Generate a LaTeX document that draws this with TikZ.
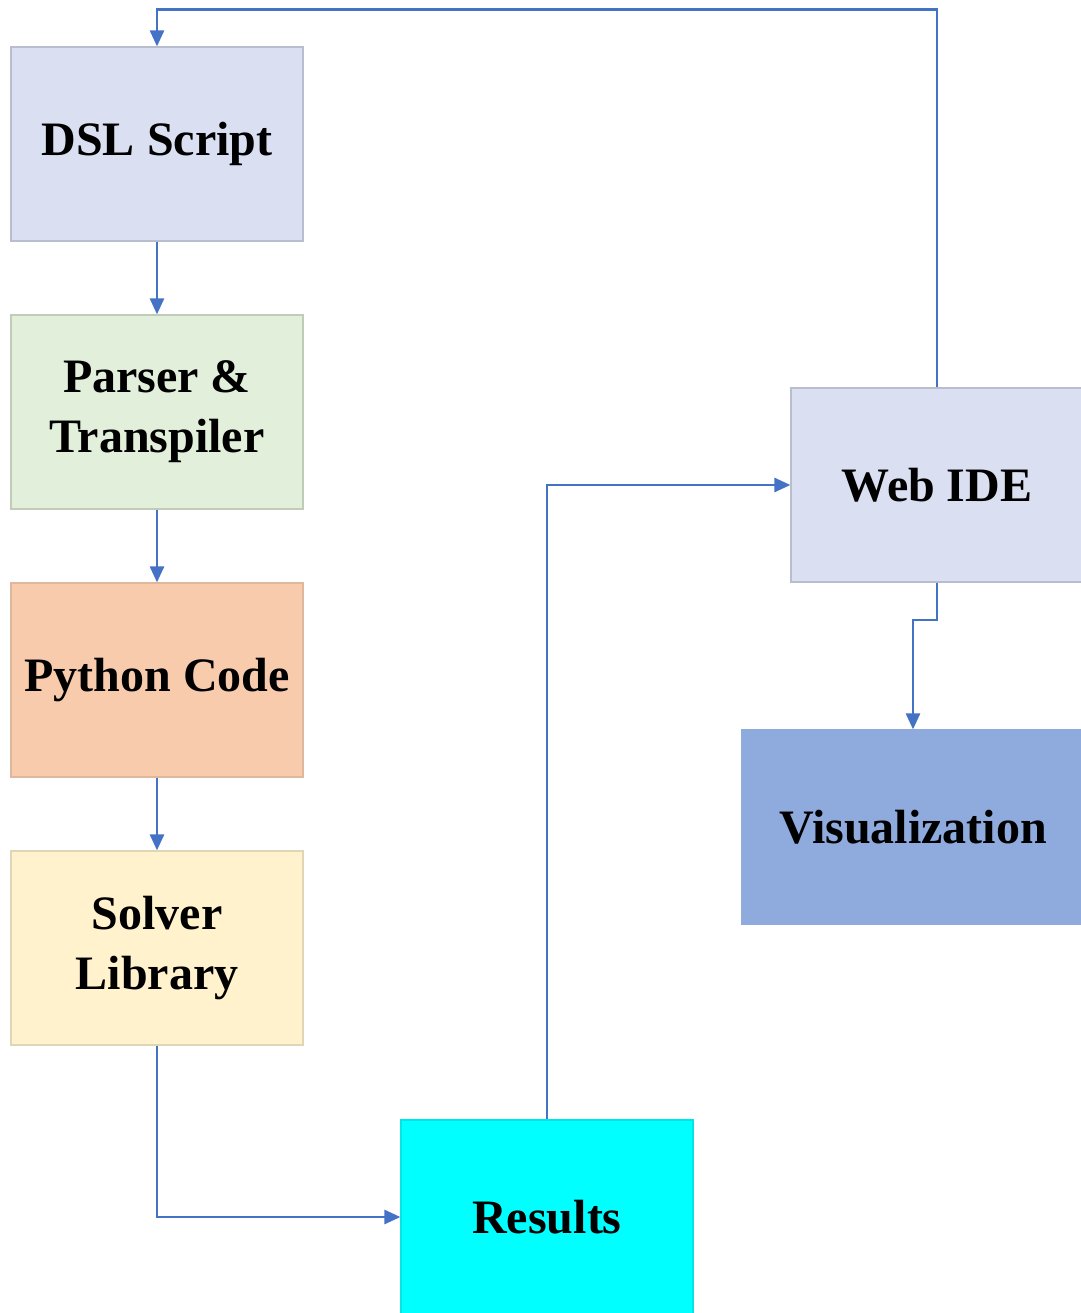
\documentclass[tikz,border=0pt]{standalone}
\usepackage{fontspec}
\setmainfont{Liberation Serif}
\usepackage{tikz}
\usetikzlibrary{positioning, arrows.meta, calc}
\definecolor{dslblue}{RGB}{218,224,242}
\definecolor{parsegreen}{RGB}{226,239,218}
\definecolor{pyorange}{RGB}{248,203,173}
\definecolor{solveryellow}{RGB}{255,242,204}
\definecolor{rescyan}{RGB}{0,255,255}
\definecolor{visblue}{RGB}{143,170,220}
\definecolor{linkblue}{RGB}{68,114,196}

\begin{document}
\begin{tikzpicture}[
    x=1pt, y=-1pt,
    box/.style={draw, line width=1.2pt, minimum width=292pt, minimum height=194pt, align=center, inner sep=4pt,
        font=\fontsize{48}{60}\selectfont\bfseries},
    dslbox/.style={box, fill=dslblue, draw=dslblue!85!black},
    parsebox/.style={box, fill=parsegreen, draw=parsegreen!85!black},
    pybox/.style={box, fill=pyorange, draw=pyorange!90!black},
    solverbox/.style={box, fill=solveryellow, draw=solveryellow!88!black},
    resbox/.style={box, fill=rescyan, draw=rescyan!90!black},
    visbox/.style={box, fill=visblue, draw=visblue, minimum width=342pt},
    arrow/.style={-{Triangle[length=16pt,width=14pt]}, linkblue, line width=2.6pt}
]
\useasboundingbox (0,0) rectangle (1080,1313);

% Left column: the pipeline
\node[dslbox] (dsl) at (157,144) {DSL Script};
\node[parsebox] (parser) at (157,412) {Parser \&\\Transpiler};
\node[pybox] (python) at (157,680) {Python Code};
\node[solverbox] (solver) at (157,948) {Solver\\Library};

\draw[arrow] (dsl) -- (parser);
\draw[arrow] (parser) -- (python);
\draw[arrow] (python) -- (solver);

% Results and front end
\node[resbox] (results) at (547,1217) {Results};
\node[dslbox] (webide) at (937,485) {Web IDE};
\node[visbox] (vis) at (913,827) {Visualization};

\coordinate (bend) at (937,620);

\draw[arrow] (solver.south) |- (results.west);
\draw[arrow] (results.north) |- (webide.west);
\draw[arrow] (webide.north) -- ++(0,-378) -| (dsl.north);
\draw[arrow] (webide.south) -- (bend) -| (vis.north);

\end{tikzpicture}
\end{document}
